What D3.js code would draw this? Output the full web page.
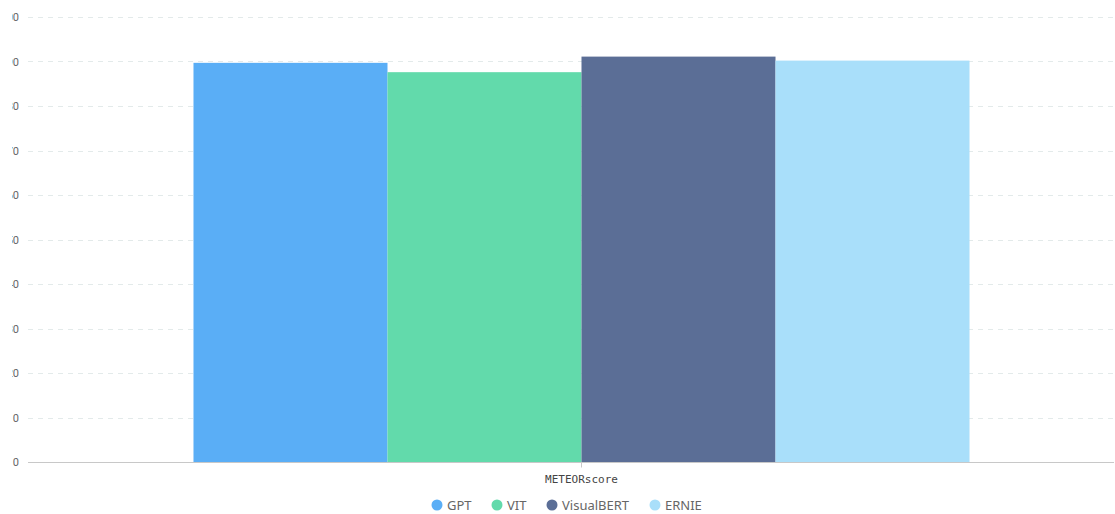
<!DOCTYPE html>
<html>
<head>
<meta charset="utf-8">
<script src="https://cdn.jsdelivr.net/npm/d3@7"></script>
<style>
  body { margin: 0; background: #fff; overflow: hidden; }
  svg { display: block; }
</style>
</head>
<body>
<div id="chart"></div>
<script>
// chart data
const categories = ["METEORscore"];
const seriesNames = ["GPT", "VIT", "VisualBERT", "ERNIE"];
const seriesValues = [89.7, 87.6, 91.1, 90.2];
const colors = ["#5aaef6", "#62daab", "#5b6e96", "#a9dffa"];
const yTicks = [0, 10, 20, 30, 40, 50, 60, 70, 80, 90, 100];

const width = 1115, height = 514;
const margin = { top: 17, right: -20, bottom: 52, left: 28 };

const svg = d3.select("#chart").append("svg")
    .attr("width", width)
    .attr("height", height);

const x0 = d3.scaleBand()
    .domain(categories)
    .range([margin.left, width - margin.right]);

const x1 = d3.scaleBand()
    .domain(seriesNames)
    .range([0, x0.bandwidth()])
    .paddingOuter(0.853);

const y = d3.scaleLinear()
    .domain([0, 100])
    .range([height - margin.bottom, margin.top]);

// labels are clipped on the left, like the original
svg.append("clipPath").attr("id", "leftClip")
    .append("rect").attr("x", 12 - margin.left).attr("y", 0).attr("width", width).attr("height", height);

// y grid + labels
const yAxis = svg.append("g")
    .attr("clip-path", "url(#leftClip)")
    .attr("transform", `translate(${margin.left},0)`)
    .call(d3.axisLeft(y).tickValues(yTicks).tickSize(0).tickPadding(9).tickFormat(d3.format("d")));
yAxis.select(".domain").remove();
yAxis.selectAll("text")
    .attr("fill", "#666")
    .style("font-family", "Roboto, sans-serif")
    .style("font-size", "11px");

svg.append("g")
    .selectAll("line")
    .data(yTicks.filter(d => d > 0))
    .join("line")
    .attr("x1", margin.left)
    .attr("x2", width)
    .attr("y1", d => Math.round(y(d)) + 0.5)
    .attr("y2", d => Math.round(y(d)) + 0.5)
    .attr("stroke", "#e3eaea")
    .attr("stroke-dasharray", "5,5");

// bars
const groups = svg.append("g")
    .selectAll("g")
    .data(categories)
    .join("g")
    .attr("transform", d => `translate(${x0(d)},0)`);

groups.selectAll("rect")
    .data(() => seriesNames.map((s, i) => ({ s, v: seriesValues[i], c: colors[i] })))
    .join("rect")
    .attr("x", d => x1(d.s))
    .attr("width", x1.bandwidth())
    .attr("y", d => y(d.v))
    .attr("height", d => y(0) - y(d.v))
    .attr("fill", d => d.c);

// x axis
const xAxis = svg.append("g")
    .attr("transform", `translate(0,${y(0) + 0.5})`)
    .call(d3.axisBottom(x0).tickSize(5).tickPadding(8));
xAxis.select(".domain").attr("stroke", "#c8c8c8").attr("d", `M${margin.left},0H${width - 1}`);
xAxis.selectAll(".tick line").attr("stroke", "#c8c8c8");
xAxis.selectAll("text")
    .attr("fill", "#444")
    .style("font-family", "'DejaVu Sans Mono', monospace")
    .style("font-size", "11px");

// legend
const legendX = [437, 497, 552, 655];
const legend = svg.append("g")
    .selectAll("g")
    .data(seriesNames)
    .join("g")
    .attr("transform", (d, i) => `translate(${legendX[i]},505)`);
legend.append("circle").attr("r", 5.5).attr("fill", (d, i) => colors[i]);
legend.append("text")
    .attr("x", 10)
    .attr("dy", "0.35em")
    .attr("fill", "#666")
    .style("font-family", "'Noto Sans', sans-serif")
    .style("font-size", "13px")
    .text(d => d);
</script>
</body>
</html>
